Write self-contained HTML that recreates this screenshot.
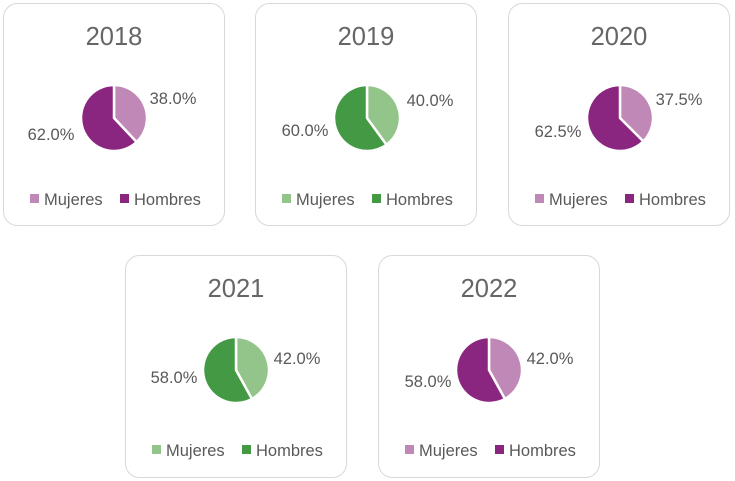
<!DOCTYPE html>
<html><head><meta charset="utf-8"><style>
body{margin:0;background:#fff;width:735px;height:481px;overflow:hidden}
svg{display:block}
text{font-family:"Liberation Sans",sans-serif;fill:#595959}
.t{font-size:25.5px;fill:#666}
.p{font-size:16.5px}
.l{font-size:16.5px}
</style></head><body>
<svg width="735" height="481" viewBox="0 0 735 481">
<defs>
<g id="card">
<rect x="0.5" y="0.5" width="221" height="222" rx="14" fill="#fff" stroke="#d9d9d9" stroke-width="1"/>
</g>
</defs>

<g transform="translate(3,3)">
<use href="#card"/>
<text x="111" y="42" class="t" text-anchor="middle">2018</text>
<g transform="translate(111,115)" stroke="#fff" stroke-width="2.5" stroke-linejoin="round">
<path d="M0,0 L0,-33 A33,33 0 0 1 22.59,24.06 Z" fill="#BF88B6"/>
<path d="M0,0 L22.59,24.06 A33,33 0 1 1 0,-33 Z" fill="#8B2680"/>
</g>
<text x="170" y="101" class="p" text-anchor="middle">38.0%</text>
<text x="48" y="137" class="p" text-anchor="middle">62.0%</text>
<rect x="27" y="191" width="9" height="9" fill="#BF88B6"/><text x="41" y="202" class="l">Mujeres</text>
<rect x="117" y="191" width="9" height="9" fill="#8B2680"/><text x="131" y="202" class="l">Hombres</text>
</g>

<g transform="translate(255,3)">
<use href="#card"/>
<text x="111" y="42" class="t" text-anchor="middle">2019</text>
<g transform="translate(112,115)" stroke="#fff" stroke-width="2.5" stroke-linejoin="round">
<path d="M0,0 L0,-33 A33,33 0 0 1 19.4,26.7 Z" fill="#93C48A"/>
<path d="M0,0 L19.4,26.7 A33,33 0 1 1 0,-33 Z" fill="#449944"/>
</g>
<text x="175" y="103" class="p" text-anchor="middle">40.0%</text>
<text x="50" y="133" class="p" text-anchor="middle">60.0%</text>
<rect x="27" y="191" width="9" height="9" fill="#93C48A"/><text x="41" y="202" class="l">Mujeres</text>
<rect x="117" y="191" width="9" height="9" fill="#449944"/><text x="131" y="202" class="l">Hombres</text>
</g>

<g transform="translate(508,3)">
<use href="#card"/>
<text x="111" y="42" class="t" text-anchor="middle">2020</text>
<g transform="translate(112,115)" stroke="#fff" stroke-width="2.5" stroke-linejoin="round">
<path d="M0,0 L0,-33 A33,33 0 0 1 23.33,23.33 Z" fill="#BF88B6"/>
<path d="M0,0 L23.33,23.33 A33,33 0 1 1 0,-33 Z" fill="#8B2680"/>
</g>
<text x="171" y="102" class="p" text-anchor="middle">37.5%</text>
<text x="50" y="134" class="p" text-anchor="middle">62.5%</text>
<rect x="27" y="191" width="9" height="9" fill="#BF88B6"/><text x="41" y="202" class="l">Mujeres</text>
<rect x="117" y="191" width="9" height="9" fill="#8B2680"/><text x="131" y="202" class="l">Hombres</text>
</g>

<g transform="translate(125,255)">
<use href="#card"/>
<text x="111" y="42" class="t" text-anchor="middle">2021</text>
<g transform="translate(111,115)" stroke="#fff" stroke-width="2.5" stroke-linejoin="round">
<path d="M0,0 L0,-33 A33,33 0 0 1 15.9,28.92 Z" fill="#93C48A"/>
<path d="M0,0 L15.9,28.92 A33,33 0 1 1 0,-33 Z" fill="#449944"/>
</g>
<text x="172" y="109" class="p" text-anchor="middle">42.0%</text>
<text x="49" y="128" class="p" text-anchor="middle">58.0%</text>
<rect x="27" y="190" width="9" height="9" fill="#93C48A"/><text x="41" y="201" class="l">Mujeres</text>
<rect x="117" y="190" width="9" height="9" fill="#449944"/><text x="131" y="201" class="l">Hombres</text>
</g>

<g transform="translate(378,255)">
<use href="#card"/>
<text x="111" y="42" class="t" text-anchor="middle">2022</text>
<g transform="translate(111,115)" stroke="#fff" stroke-width="2.5" stroke-linejoin="round">
<path d="M0,0 L0,-33 A33,33 0 0 1 15.9,28.92 Z" fill="#BF88B6"/>
<path d="M0,0 L15.9,28.92 A33,33 0 1 1 0,-33 Z" fill="#8B2680"/>
</g>
<text x="172" y="109" class="p" text-anchor="middle">42.0%</text>
<text x="50" y="132" class="p" text-anchor="middle">58.0%</text>
<rect x="27" y="190" width="9" height="9" fill="#BF88B6"/><text x="41" y="201" class="l">Mujeres</text>
<rect x="117" y="190" width="9" height="9" fill="#8B2680"/><text x="131" y="201" class="l">Hombres</text>
</g>
</svg>
</body></html>
